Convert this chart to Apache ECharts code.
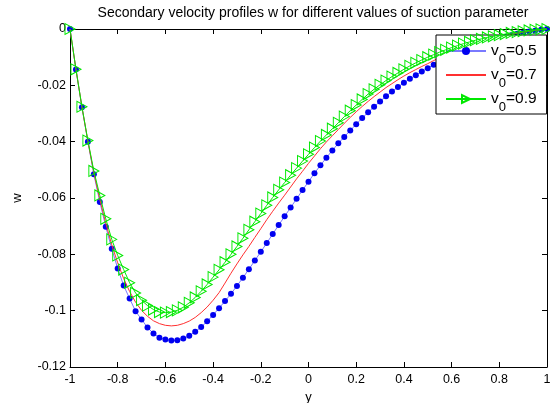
<!DOCTYPE html>
<html>
<head>
<meta charset="utf-8">
<script src="https://cdn.jsdelivr.net/npm/echarts@6/dist/echarts.min.js"></script>
<style>
  html, body { margin: 0; padding: 0; background: #fff; overflow: hidden; }
  #chart { width: 550px; height: 403px; }
</style>
</head>
<body>
<div id="chart"></div>
<script>
// Grid points across the channel, y in [-1, 1]
const yPoints = [
  -1, -0.975, -0.95, -0.925, -0.9, -0.875, -0.85, -0.825, -0.8, -0.775,
  -0.75, -0.725, -0.7, -0.675, -0.65, -0.625, -0.6, -0.575, -0.55, -0.525,
  -0.5, -0.475, -0.45, -0.425, -0.4, -0.375, -0.35, -0.325, -0.3, -0.275,
  -0.25, -0.225, -0.2, -0.175, -0.15, -0.125, -0.1, -0.075, -0.05, -0.025,
  0, 0.025, 0.05, 0.075, 0.1, 0.125, 0.15, 0.175, 0.2, 0.225,
  0.25, 0.275, 0.3, 0.325, 0.35, 0.375, 0.4, 0.425, 0.45, 0.475,
  0.5, 0.525, 0.55, 0.575, 0.6, 0.625, 0.65, 0.675, 0.7, 0.725,
  0.75, 0.775, 0.8, 0.825, 0.85, 0.875, 0.9, 0.925, 0.95, 0.975,
  1
];

// Secondary velocity w for v0 = 0.5
const wV05 = [
  0, -0.0144, -0.0278, -0.0400, -0.0516, -0.0614, -0.0702, -0.0780, -0.0850, -0.0911,
  -0.0957, -0.1002, -0.1031, -0.1060, -0.1081, -0.1096, -0.1102, -0.1106, -0.1105, -0.1099,
  -0.1089, -0.1075, -0.1058, -0.1038, -0.1015, -0.0991, -0.0966, -0.0940, -0.0912, -0.0883,
  -0.0853, -0.0822, -0.0791, -0.0760, -0.0728, -0.0696, -0.0665, -0.0634, -0.0603, -0.0572,
  -0.0542, -0.0512, -0.0484, -0.0457, -0.0431, -0.0406, -0.0383, -0.0360, -0.0338, -0.0316,
  -0.0296, -0.0276, -0.0257, -0.0239, -0.0222, -0.0206, -0.0191, -0.0177, -0.0164, -0.0151,
  -0.0139, -0.0127, -0.0116, -0.0106, -0.0096, -0.0087, -0.0078, -0.0070, -0.0062, -0.0054,
  -0.0047, -0.0040, -0.0034, -0.0028, -0.0022, -0.0017, -0.0013, -0.0009, -0.0006, -0.0003,
  0
];

// Secondary velocity w for v0 = 0.7
const wV07 = [
  0, -0.0143, -0.0277, -0.0398, -0.0511, -0.0605, -0.0690, -0.0766, -0.0830, -0.0886,
  -0.0932, -0.0970, -0.0999, -0.1020, -0.1036, -0.1046, -0.1052, -0.1054, -0.1052, -0.1046,
  -0.1037, -0.1024, -0.1007, -0.0987, -0.0963, -0.0936, -0.0902, -0.0867, -0.0834, -0.0802,
  -0.0772, -0.0740, -0.0709, -0.0677, -0.0647, -0.0618, -0.0590, -0.0561, -0.0532, -0.0505,
  -0.0477, -0.0451, -0.0425, -0.0401, -0.0379, -0.0357, -0.0335, -0.0314, -0.0294, -0.0275,
  -0.0257, -0.0240, -0.0224, -0.0208, -0.0194, -0.0180, -0.0167, -0.0155, -0.0144, -0.0133,
  -0.0123, -0.0112, -0.0102, -0.0092, -0.0083, -0.0075, -0.0067, -0.0060, -0.0053, -0.0046,
  -0.0040, -0.0034, -0.0029, -0.0024, -0.0019, -0.0015, -0.0011, -0.0008, -0.0005, -0.0002,
  0
];

// Secondary velocity w for v0 = 0.9
const wV09 = [
  0, -0.0143, -0.0276, -0.0396, -0.0504, -0.0591, -0.0674, -0.0747, -0.0804, -0.0854,
  -0.0901, -0.0937, -0.0963, -0.0982, -0.0996, -0.1005, -0.1007, -0.1005, -0.0999, -0.0988,
  -0.0972, -0.0953, -0.0931, -0.0907, -0.0881, -0.0855, -0.0828, -0.0800, -0.0772, -0.0743,
  -0.0713, -0.0684, -0.0655, -0.0626, -0.0598, -0.0571, -0.0545, -0.0519, -0.0494, -0.0469,
  -0.0445, -0.0421, -0.0398, -0.0376, -0.0354, -0.0333, -0.0311, -0.0290, -0.0270, -0.0250,
  -0.0231, -0.0214, -0.0198, -0.0183, -0.0169, -0.0156, -0.0143, -0.0131, -0.0120, -0.0110,
  -0.0100, -0.0091, -0.0082, -0.0074, -0.0066, -0.0059, -0.0052, -0.0046, -0.0040, -0.0035,
  -0.0030, -0.0026, -0.0022, -0.0018, -0.0014, -0.0011, -0.0008, -0.0005, -0.0003, -0.0001,
  0
];

const seriesNames = ['v0=0.5', 'v0=0.7', 'v0=0.9'];
const legendValues = ['0.5', '0.7', '0.9'];

const xTickLabels = ['-1', '-0.8', '-0.6', '-0.4', '-0.2', '0', '0.2', '0.4', '0.6', '0.8', '1'];
const yTickLabels = ['-0.12', '-0.1', '-0.08', '-0.06', '-0.04', '-0.02', '0'];

const FONT = '"Liberation Sans", Arial, Helvetica, sans-serif';

function pairs(xs, ys) {
  return xs.map((x, i) => [x, ys[i]]);
}

function tickText(list, min, step) {
  return function (v) {
    const k = Math.round((v - min) / step);
    return list[k] !== undefined ? list[k] : '';
  };
}

const chart = echarts.init(document.getElementById('chart'), null, { renderer: 'canvas' });

const boxAxisLine = { show: true, onZero: false, lineStyle: { color: '#000', width: 1 } };
const innerTick = { show: true, inside: true, length: 5, lineStyle: { color: '#000', width: 1 } };

chart.setOption({
  backgroundColor: '#ffffff',
  animation: false,
  title: {
    text: 'Secondary velocity profiles w for different values of suction parameter',
    left: 308,
    top: 1,
    textAlign: 'center',
    textStyle: { fontFamily: FONT, fontSize: 14, fontWeight: 'normal', color: '#000' }
  },
  grid: { left: 70, right: 3, top: 29, bottom: 36, containLabel: false, outerBoundsMode: 'none' },
  legend: {
    orient: 'vertical',
    left: 436,
    top: 35,
    padding: [8, 10, 0, 9],
    itemWidth: 40,
    itemHeight: 10,
    itemGap: 1,
    borderColor: '#000',
    borderWidth: 1,
    backgroundColor: '#ffffff',
    data: [
      { name: seriesNames[0] },
      { name: seriesNames[1], itemStyle: { opacity: 0 } },
      { name: seriesNames[2] }
    ],
    formatter: function (name) {
      const k = seriesNames.indexOf(name);
      return '{v|v}{s|0}{v|=' + legendValues[k] + '}';
    },
    textStyle: {
      fontFamily: FONT,
      color: '#000',
      rich: {
        v: { fontFamily: FONT, fontSize: 15.5, color: '#000', lineHeight: 30, verticalAlign: 'middle' },
        s: { fontFamily: FONT, fontSize: 13, color: '#000', lineHeight: 15, verticalAlign: 'bottom' }
      }
    }
  },
  xAxis: [
    {
      type: 'value', min: -1, max: 1, interval: 0.2,
      position: 'bottom',
      name: 'y', nameLocation: 'middle', nameGap: 23,
      nameTextStyle: { fontFamily: FONT, fontSize: 13, color: '#000' },
      axisLine: boxAxisLine, axisTick: innerTick, splitLine: { show: false },
      axisLabel: { fontFamily: FONT, fontSize: 12.5, color: '#000', margin: 6,
        formatter: tickText(xTickLabels, -1, 0.2) }
    },
    {
      type: 'value', min: -1, max: 1, interval: 0.2,
      position: 'top',
      axisLine: boxAxisLine, axisTick: innerTick, splitLine: { show: false },
      axisLabel: { show: false }
    }
  ],
  yAxis: [
    {
      type: 'value', min: -0.12, max: 0, interval: 0.02,
      position: 'left',
      name: 'w', nameLocation: 'middle', nameGap: 46,
      nameTextStyle: { fontFamily: FONT, fontSize: 13, color: '#000' },
      axisLine: boxAxisLine, axisTick: innerTick, splitLine: { show: false },
      axisLabel: { fontFamily: FONT, fontSize: 12.5, color: '#000', margin: 4,
        formatter: tickText(yTickLabels, -0.12, 0.02) }
    },
    {
      type: 'value', min: -0.12, max: 0, interval: 0.02,
      position: 'right',
      axisLine: boxAxisLine, axisTick: innerTick, splitLine: { show: false },
      axisLabel: { show: false }
    }
  ],
  series: [
    {
      name: seriesNames[0], type: 'line', data: pairs(yPoints, wV05),
      xAxisIndex: 0, yAxisIndex: 0, clip: false,
      symbol: 'circle', symbolSize: 6, showSymbol: true, showAllSymbol: true,
      lineStyle: { color: '#7a7aff', width: 1 },
      itemStyle: { color: '#0000f0', borderWidth: 0 },
      z: 2
    },
    {
      name: seriesNames[1], type: 'line', data: pairs(yPoints, wV07),
      xAxisIndex: 0, yAxisIndex: 0, clip: false,
      symbol: 'none', showSymbol: false,
      lineStyle: { color: '#ff3030', width: 1 },
      itemStyle: { color: '#ff3030' },
      z: 3
    },
    {
      name: seriesNames[2], type: 'line', data: pairs(yPoints, wV09),
      xAxisIndex: 0, yAxisIndex: 0, clip: false,
      symbol: 'triangle', symbolSize: [11, 10], symbolRotate: -90,
      showSymbol: true, showAllSymbol: true,
      lineStyle: { color: '#00e800', width: 1 },
      itemStyle: { color: 'rgba(0,0,0,0)', borderColor: '#00e800', borderWidth: 1 },
      z: 4
    }
  ]
});
</script>
</body>
</html>
